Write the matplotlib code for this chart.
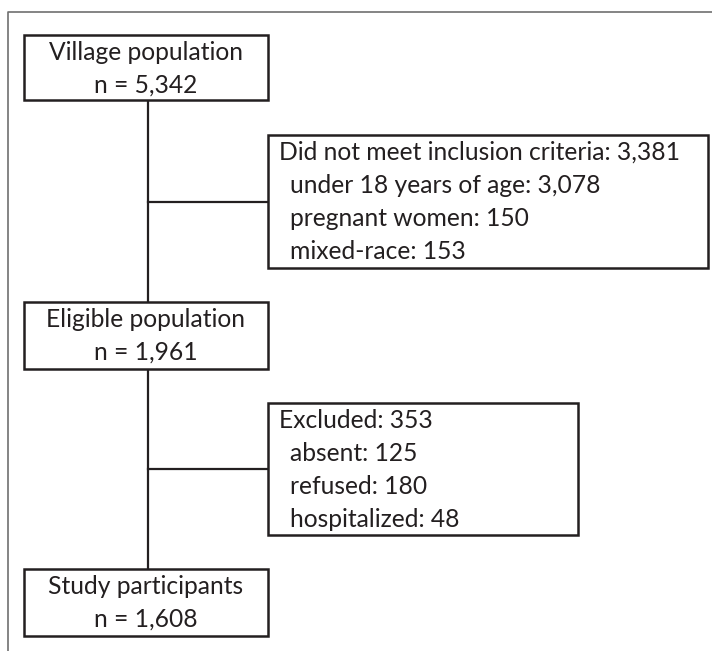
import matplotlib
matplotlib.use("Agg")
import matplotlib.pyplot as plt
from matplotlib.patches import Rectangle

# ---- data ----
main_labels = ["Village population", "Eligible population", "Study participants"]
main_counts = [5342, 1961, 1608]
side_titles = ["Did not meet inclusion criteria", "Excluded"]
side_totals = [3381, 353]
side1_items = ["under 18 years of age", "pregnant women", "mixed-race"]
side1_counts = [3078, 150, 153]
side2_items = ["absent", "refused", "hospitalized"]
side2_counts = [125, 180, 48]

# ---- layout (pixels) ----
W, H = 712, 651
main_boxes = [(24, 35, 268, 100), (24, 302, 268, 369), (24, 569, 268, 636)]
side_boxes = [(268, 135, 708, 268), (268, 403, 578, 535)]
spine_x = 148
connector_y = [202, 469]
line_h = 33
ink = "#231f20"
font = ["Lato", "DejaVu Sans"]
fs = 17.7

fig = plt.figure(figsize=(W / 100, H / 100), dpi=100)
ax = fig.add_axes([0, 0, 1, 1])
ax.set_xlim(0, W)
ax.set_ylim(H, 0)
ax.axis("off")

# outer frame (only top & left visible)
ax.plot([8, 8, W + 5], [H + 5, 12, 12], color="#707070", lw=1.2, zorder=1)

# spine and connectors
ax.plot([spine_x, spine_x], [main_boxes[0][3], main_boxes[2][1]], color=ink, lw=1.6, zorder=2)
for cy, sb in zip(connector_y, side_boxes):
    ax.plot([spine_x, sb[0]], [cy, cy], color=ink, lw=1.6, zorder=2)

def box(b):
    x0, y0, x1, y1 = b
    ax.add_patch(Rectangle((x0, y0), x1 - x0, y1 - y0, facecolor="white",
                           edgecolor=ink, lw=1.8, zorder=3))

for b, lab, n in zip(main_boxes, main_labels, main_counts):
    box(b)
    cx = (b[0] + b[2]) / 2
    ax.text(cx, b[1] + line_h / 2 + 1, lab, ha="center", va="center",
            fontsize=fs, family=font, color=ink, zorder=4)
    ax.text(cx, b[1] + line_h * 1.5 + 1, f"n = {n:,}", ha="center", va="center",
            fontsize=fs, family=font, color=ink, zorder=4)

for b, title, total, items, counts in zip(side_boxes, side_titles, side_totals,
                                          [side1_items, side2_items],
                                          [side1_counts, side2_counts]):
    box(b)
    lines = [f"{title}: {total:,}"] + [f"{it}: {c:,}" for it, c in zip(items, counts)]
    for k, ln in enumerate(lines):
        x = b[0] + 11 if k == 0 else b[0] + 22
        ax.text(x, b[1] + line_h * (k + 0.5) + 1, ln, ha="left", va="center",
                fontsize=fs, family=font, color=ink, zorder=4)

fig.savefig("out.png", dpi=100)
